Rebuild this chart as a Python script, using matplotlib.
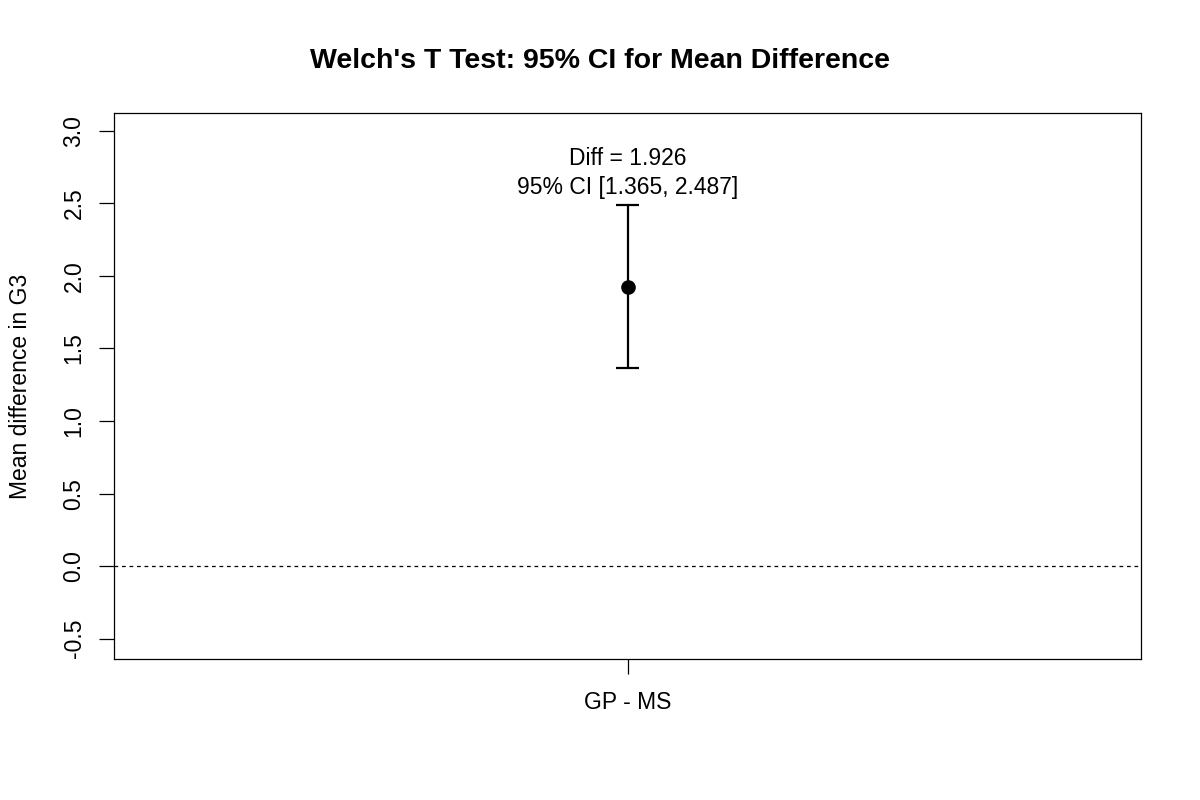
import matplotlib
matplotlib.use('Agg')
import matplotlib.pyplot as plt

plt.rcParams['font.family'] = ['Liberation Sans', 'DejaVu Sans']

# data
groups = ['GP - MS']
mean_diff = [1.926]
ci_low = [1.365]
ci_high = [2.487]
yticks = [-0.5, 0.0, 0.5, 1.0, 1.5, 2.0, 2.5, 3.0]

fig = plt.figure(figsize=(12, 8), dpi=100)
ax = fig.add_axes([0.095, 0.176, 0.856, 0.683])

x = list(range(1, len(groups) + 1))
ax.vlines(x, ci_low, ci_high, color='black', lw=1.6)
ax.hlines(ci_low, [v - 0.011 for v in x], [v + 0.011 for v in x], color='black', lw=1.6)
ax.hlines(ci_high, [v - 0.011 for v in x], [v + 0.011 for v in x], color='black', lw=1.6)
ax.plot(x, mean_diff, 'o', color='black', ms=9.5)
ax.axhline(0, color='black', lw=0.9, ls=(0, (3, 3)))

for xi, m, lo, hi in zip(x, mean_diff, ci_low, ci_high):
    ax.text(xi, hi + 0.32, 'Diff = %.3f' % m, ha='center', va='center', fontsize=16.5)
    ax.text(xi, hi + 0.12, '95%% CI [%.3f, %.3f]' % (lo, hi),
            ha='center', va='center', fontsize=16.5)

ax.set_xlim(0.5, 1.5)
ax.set_ylim(-0.641, 3.124)
ax.set_xticks(x)
ax.set_xticklabels(groups, fontsize=16.5)
ax.set_yticks(yticks)
ax.set_yticklabels(['%.1f' % v for v in yticks], fontsize=16.5, rotation=90, va='center')
ax.tick_params(length=10.5, width=0.9, pad=10)
ax.tick_params(axis='x', pad=12.5)
ax.set_ylabel('Mean difference in G3', fontsize=16.5, labelpad=22)
for s in ax.spines.values():
    s.set_linewidth(0.9)

fig.suptitle("Welch's T Test: 95% CI for Mean Difference", fontsize=20.5,
             fontweight='bold', y=0.9405)

fig.savefig('out.png', dpi=100)
